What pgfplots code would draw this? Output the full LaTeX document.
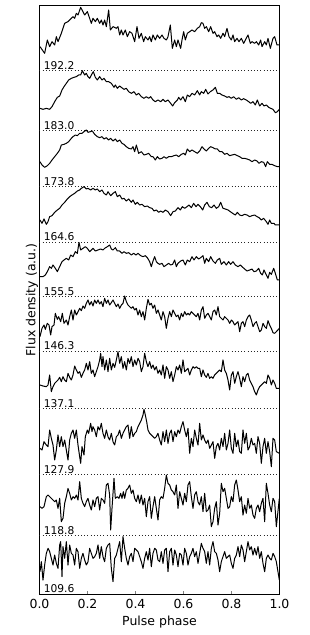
\documentclass[border=0pt]{standalone}
\usepackage{pgfplots}
\pgfplotsset{compat=1.18}
\usepackage{fontspec}
\setmainfont{DejaVu Sans}
\pgfplotsset{prof/.style={black, no markers, line width=1pt, line join=round}}
\begin{document}
\begin{tikzpicture}
\begin{axis}[
  scale only axis, width=240pt, height=588.6pt,
  xmin=0, xmax=1, ymin=0, ymax=588.6,
  xtick={0,0.2,0.4,0.6,0.8,1.0},
  xticklabels={0.0,0.2,0.4,0.6,0.8,1.0},
  xtick pos=bottom, ytick=\empty,
  tick align=inside, major tick length=3.5pt,
  /pgf/number format/assume math mode=true,
  tick label style={font=\fontsize{12.5}{14}\selectfont},
  xticklabel style={yshift=-1pt},
  label style={font=\fontsize{12.5}{14}\selectfont},
  xlabel={Pulse phase}, ylabel={Flux density (a.u.)},
  xlabel style={yshift=-1pt},
  ylabel style={yshift=-2pt},
  axis line style={line width=0.9pt},
]
% baselines
\pgfplotsinvokeforeach{523.6,463.6,407.6,352,297.6,243.3,185.6,119.5,58.6}{
  \addplot[line width=0.7pt, black!85, dash pattern=on 0.9pt off 2.3pt] coordinates {(0,#1) (1,#1)};
}
% profile 192.2
\addplot[prof] table[row sep=\\, x expr={(\thisrowno{0}-4.5)/720}, y expr={594.3-\thisrowno{1}/3}] {
6 140\\20 160\\28 120\\35 140\\42 125\\50 135\\55 110\\60 125\\70 100\\80 70\\90 65\\100 55\\105 50\\110 55\\115 40\\120 45\\128 22\\135 35\\140 45\\148 35\\155 55\\160 70\\165 55\\172 65\\178 55\\185 70\\190 60\\195 75\\200 60\\205 80\\212 30\\217 90\\225 80\\235 85\\240 80\\245 105\\250 90\\255 105\\262 90\\268 110\\275 95\\282 100\\290 125\\297 80\\303 115\\310 100\\317 125\\322 110\\330 120\\335 110\\340 125\\345 105\\352 120\\358 105\\365 115\\372 105\\378 115\\385 120\\390 110\\397 75\\403 145\\410 120\\415 140\\420 120\\428 145\\432 120\\437 95\\442 120\\448 100\\455 95\\462 90\\470 95\\478 85\\485 80\\490 68\\495 70\\500 85\\505 80\\512 95\\518 80\\525 100\\530 95\\537 110\\542 105\\548 115\\555 100\\560 110\\567 85\\573 110\\580 120\\585 105\\590 125\\597 115\\603 125\\610 115\\617 130\\622 120\\630 105\\637 130\\642 125\\650 130\\655 125\\662 135\\668 120\\672 140\\680 125\\685 135\\690 115\\697 145\\705 115\\710 110\\717 135\\724 135\\
};
% profile 183.0
\addplot[prof] table[row sep=\\, x expr={(\thisrowno{0}-4.5)/720}, y expr={594.3-\thisrowno{1}/3}] {
6 325\\15 328\\25 325\\35 328\\42 320\\50 305\\58 292\\65 288\\72 270\\78 260\\85 250\\92 240\\100 235\\108 232\\115 230\\122 225\\128 225\\133 212\\140 225\\145 220\\150 230\\155 235\\160 225\\166 215\\172 232\\178 240\\185 230\\192 240\\198 235\\205 245\\212 245\\220 250\\228 262\\232 255\\238 265\\245 258\\250 262\\258 268\\265 265\\272 275\\280 280\\288 275\\295 285\\302 280\\310 290\\318 295\\325 290\\332 295\\338 290\\345 300\\352 305\\360 300\\368 305\\375 298\\382 305\\390 300\\398 310\\404 318\\410 308\\418 300\\422 292\\428 300\\435 290\\442 305\\448 285\\455 290\\462 280\\470 285\\478 272\\485 285\\490 275\\497 280\\503 268\\510 282\\517 275\\525 270\\532 262\\538 280\\545 280\\552 285\\560 288\\567 292\\573 290\\580 295\\587 290\\595 298\\602 293\\610 300\\617 296\\625 300\\632 305\\638 310\\645 305\\652 315\\658 300\\665 318\\672 310\\678 318\\685 315\\692 322\\698 325\\705 328\\712 338\\718 335\\724 328\\
};
% profile 173.8
\addplot[prof] table[row sep=\\, x expr={(\thisrowno{0}-4.5)/720}, y expr={469.3-\thisrowno{1}/3}] {
6 110\\12 120\\20 127\\28 122\\35 115\\42 105\\50 95\\58 85\\65 75\\70 60\\78 58\\85 55\\92 50\\100 40\\105 35\\112 30\\118 32\\125 25\\132 25\\138 20\\145 15\\150 22\\157 20\\163 18\\170 28\\178 35\\185 38\\192 35\\198 42\\205 38\\212 45\\218 40\\225 48\\232 42\\238 50\\245 45\\252 55\\258 58\\265 65\\272 70\\280 72\\285 65\\290 80\\295 60\\302 85\\310 80\\318 90\\325 88\\332 85\\340 95\\345 95\\352 105\\358 95\\365 102\\372 100\\378 95\\385 100\\392 95\\400 95\\408 92\\415 90\\422 95\\430 88\\437 85\\442 90\\448 72\\455 80\\462 75\\470 80\\478 85\\485 78\\492 65\\498 72\\505 78\\512 70\\518 65\\525 68\\532 72\\538 72\\545 80\\552 80\\560 88\\567 85\\575 92\\582 90\\590 88\\598 92\\605 95\\612 100\\620 100\\627 102\\635 105\\642 110\\650 105\\657 108\\663 115\\670 110\\677 112\\683 125\\688 110\\695 118\\702 118\\710 122\\718 125\\724 125\\
};
% profile 164.6
\addplot[prof] table[row sep=\\, x expr={(\thisrowno{0}-4.5)/720}, y expr={469.3-\thisrowno{1}/3}] {
6 285\\12 295\\18 282\\25 298\\30 290\\35 275\\42 272\\50 262\\58 255\\65 250\\72 240\\80 232\\88 222\\95 215\\102 210\\110 205\\118 198\\125 195\\130 190\\138 185\\145 192\\150 190\\158 195\\165 190\\172 195\\178 192\\185 200\\192 195\\198 205\\205 210\\210 200\\218 212\\225 205\\232 200\\238 215\\245 210\\252 222\\258 220\\265 228\\272 222\\280 232\\285 225\\292 238\\298 232\\305 240\\312 238\\320 245\\328 243\\335 248\\342 250\\348 258\\355 255\\362 262\\368 258\\375 262\\382 255\\390 260\\398 272\\405 260\\412 258\\420 248\\427 255\\433 245\\440 250\\447 245\\453 240\\460 248\\467 235\\474 245\\480 238\\487 245\\494 255\\500 240\\507 232\\514 245\\521 248\\528 240\\535 250\\542 245\\548 232\\555 250\\562 252\\570 255\\577 260\\584 265\\592 270\\598 262\\605 270\\612 272\\620 268\\627 270\\635 275\\642 272\\650 270\\657 275\\663 278\\670 285\\677 280\\685 290\\690 298\\695 285\\700 295\\708 295\\712 300\\724 300\\
};
% profile 155.5
\addplot[prof] table[row sep=\\, x expr={(\thisrowno{0}-4.5)/720}, y expr={469.3-\thisrowno{1}/3}] {
6 455\\15 455\\22 450\\28 440\\35 425\\40 430\\45 420\\52 430\\58 440\\65 425\\72 410\\78 405\\85 400\\92 405\\98 390\\105 395\\112 380\\118 385\\123 352\\128 375\\135 370\\142 365\\148 370\\155 380\\160 375\\165 370\\172 378\\180 375\\188 372\\195 375\\200 370\\208 365\\215 360\\220 372\\225 375\\232 368\\238 378\\245 378\\252 385\\258 380\\265 385\\272 383\\280 390\\287 385\\294 390\\300 385\\308 392\\315 395\\322 392\\328 398\\335 410\\340 425\\345 408\\350 395\\355 410\\360 415\\365 418\\372 415\\378 425\\385 420\\392 415\\398 420\\404 418\\410 405\\415 425\\420 415\\428 408\\435 405\\442 420\\448 405\\455 410\\462 395\\468 405\\475 395\\482 402\\488 398\\495 392\\500 415\\505 400\\512 410\\518 395\\525 408\\532 415\\538 405\\545 400\\550 418\\558 410\\565 420\\572 410\\578 418\\585 410\\592 420\\600 425\\607 420\\612 425\\620 432\\627 438\\635 435\\642 432\\648 440\\655 438\\662 430\\668 445\\673 450\\678 435\\685 450\\690 460\\695 442\\700 448\\707 430\\712 445\\718 465\\724 465\\
};
% profile 146.3
\addplot[prof] table[row sep=\\, x expr={(\thisrowno{0}-4.5)/720}, y expr={304.3-\thisrowno{1}/3}] {
6 140\\12 115\\18 105\\22 118\\28 100\\33 105\\38 135\\42 110\\48 105\\52 70\\58 88\\62 80\\68 95\\73 70\\78 100\\85 90\\90 105\\95 80\\100 60\\105 90\\110 60\\115 75\\120 65\\125 55\\130 62\\135 48\\140 55\\145 40\\150 30\\155 45\\160 35\\165 48\\170 30\\175 40\\180 30\\185 42\\190 35\\195 50\\200 25\\205 40\\210 30\\215 45\\220 38\\225 30\\230 40\\235 50\\240 42\\245 55\\250 45\\255 40\\260 18\\265 35\\270 45\\275 50\\280 55\\285 50\\290 60\\295 55\\300 75\\305 60\\310 80\\315 65\\320 90\\325 55\\330 28\\335 45\\340 40\\345 55\\350 45\\355 70\\360 60\\365 75\\370 90\\375 65\\380 80\\385 115\\390 85\\395 65\\400 80\\405 60\\410 70\\415 80\\420 75\\425 90\\430 70\\435 80\\440 65\\445 75\\450 70\\455 75\\460 65\\465 70\\470 75\\475 80\\480 70\\485 90\\490 60\\495 50\\500 85\\505 75\\510 70\\515 80\\520 90\\525 65\\530 60\\535 75\\540 50\\545 80\\550 85\\555 90\\560 80\\565 85\\570 90\\575 100\\580 90\\585 95\\590 105\\595 100\\600 95\\605 125\\610 100\\615 95\\620 110\\625 90\\630 80\\635 75\\640 90\\645 110\\650 100\\655 95\\660 110\\665 125\\670 120\\675 100\\680 110\\685 115\\690 92\\695 105\\700 115\\705 128\\710 130\\715 125\\724 115\\
};
% profile 137.1
\addplot[prof] table[row sep=\\, x expr={(\thisrowno{0}-4.5)/720}, y expr={304.3-\thisrowno{1}/3}] {
6 285\\15 288\\25 290\\30 285\\35 255\\40 305\\45 290\\50 280\\55 275\\60 270\\65 262\\70 275\\75 260\\80 270\\85 275\\90 250\\95 262\\100 270\\105 255\\110 228\\115 240\\120 250\\125 245\\130 262\\135 250\\140 240\\145 220\\150 240\\155 215\\160 250\\165 240\\170 260\\175 245\\180 230\\185 210\\188 190\\192 230\\195 200\\200 240\\205 210\\210 245\\215 205\\220 240\\225 220\\230 232\\235 210\\240 185\\245 220\\250 200\\255 235\\260 215\\265 240\\270 205\\275 220\\280 200\\285 230\\290 210\\295 225\\300 205\\305 215\\310 245\\315 230\\320 190\\325 215\\330 230\\335 215\\340 235\\345 225\\350 240\\355 230\\360 250\\365 240\\370 255\\375 225\\380 265\\385 230\\390 240\\395 265\\400 245\\405 275\\410 255\\415 230\\420 240\\425 225\\430 250\\435 210\\440 245\\445 240\\450 235\\455 255\\460 240\\465 230\\470 235\\475 230\\480 235\\485 235\\490 260\\495 240\\500 255\\505 262\\510 250\\515 265\\520 260\\525 265\\530 255\\535 250\\540 245\\545 240\\550 245\\555 210\\560 240\\565 250\\570 270\\575 300\\580 255\\585 245\\590 280\\595 260\\600 245\\605 265\\610 290\\615 260\\620 275\\625 255\\630 250\\635 270\\640 280\\645 290\\650 305\\655 315\\660 300\\665 290\\670 285\\675 280\\680 275\\685 280\\690 255\\695 265\\700 285\\705 270\\710 280\\715 295\\724 295\\
};
% profile 127.9
\addplot[prof] table[row sep=\\, x expr={(\thisrowno{0}-4.5)/720}, y expr={304.3-\thisrowno{1}/3}] {
6 475\\12 480\\18 455\\25 465\\30 470\\35 420\\40 445\\45 465\\50 510\\55 480\\60 435\\65 470\\70 440\\75 470\\80 450\\85 480\\90 510\\95 450\\100 430\\105 420\\110 445\\115 420\\120 465\\125 500\\128 520\\132 470\\138 495\\142 440\\148 420\\152 430\\158 400\\162 425\\165 410\\170 420\\175 440\\180 410\\185 420\\190 400\\195 430\\200 445\\205 420\\210 440\\215 450\\220 430\\225 455\\230 465\\235 440\\240 435\\245 420\\250 445\\255 430\\260 420\\265 410\\270 405\\275 445\\280 410\\285 440\\290 430\\295 425\\300 410\\305 400\\310 390\\315 375\\318 358\\322 375\\326 395\\330 420\\335 430\\340 435\\345 440\\350 445\\355 440\\360 430\\365 450\\370 465\\375 425\\380 455\\385 420\\390 460\\395 430\\400 420\\405 455\\410 425\\415 440\\420 420\\425 430\\430 410\\435 395\\440 420\\445 440\\450 415\\455 490\\460 445\\465 470\\470 420\\475 445\\480 465\\485 400\\490 450\\495 435\\500 450\\505 460\\510 450\\515 475\\520 465\\525 455\\530 505\\535 470\\540 460\\545 480\\550 445\\555 470\\560 430\\565 480\\570 460\\575 420\\580 475\\585 490\\590 430\\595 470\\600 450\\605 485\\610 490\\615 420\\620 460\\625 430\\630 480\\635 470\\640 445\\645 465\\650 460\\655 490\\660 440\\665 460\\670 520\\675 470\\680 445\\685 490\\690 455\\695 485\\700 530\\705 445\\710 450\\715 485\\724 490\\
};
% profile 118.8
\addplot[prof] table[row sep=\\, x expr={(\thisrowno{0}-4.5)/720}, y expr={129.3-\thisrowno{1}/3}] {
6 125\\12 130\\18 125\\25 95\\30 90\\35 95\\40 100\\45 105\\50 110\\55 105\\60 130\\65 100\\70 170\\75 160\\80 115\\85 95\\90 70\\95 85\\100 105\\105 95\\110 100\\115 90\\120 105\\125 50\\130 100\\135 115\\140 125\\145 110\\150 100\\155 120\\160 135\\165 105\\170 125\\175 100\\180 95\\185 135\\190 100\\195 105\\200 115\\205 60\\210 55\\215 90\\218 195\\222 130\\228 40\\232 100\\238 95\\243 100\\248 85\\252 100\\256 80\\260 100\\265 75\\270 70\\275 60\\280 85\\285 75\\290 100\\295 110\\300 90\\305 115\\310 90\\315 120\\320 100\\325 155\\330 110\\335 95\\340 160\\345 125\\350 95\\355 130\\360 165\\365 105\\370 95\\375 100\\380 70\\385 30\\390 55\\395 60\\400 75\\405 80\\410 90\\415 60\\420 130\\425 80\\430 100\\435 120\\440 85\\445 110\\450 60\\455 50\\460 95\\465 130\\470 90\\475 80\\480 110\\485 120\\490 95\\495 140\\500 85\\505 140\\510 135\\515 120\\520 185\\525 170\\530 130\\535 110\\540 180\\545 145\\550 55\\555 80\\560 70\\565 100\\570 130\\575 125\\580 95\\585 110\\590 60\\595 45\\600 75\\605 110\\610 95\\615 150\\620 120\\625 145\\630 100\\635 130\\640 120\\645 150\\650 160\\655 130\\660 120\\665 140\\670 115\\675 100\\680 170\\685 55\\690 85\\695 120\\700 140\\705 100\\710 110\\715 185\\724 100\\
};
% profile 109.6
\addplot[prof] table[row sep=\\, x expr={(\thisrowno{0}-4.5)/720}, y expr={129.3-\thisrowno{1}/3}] {
6 320\\10 290\\15 345\\20 300\\25 265\\30 250\\35 260\\40 280\\45 300\\50 270\\55 295\\60 310\\65 240\\68 230\\72 335\\75 245\\80 280\\85 230\\90 300\\95 240\\100 265\\105 270\\110 300\\115 250\\120 260\\125 310\\130 280\\135 265\\140 285\\145 300\\150 290\\155 250\\160 265\\165 280\\170 275\\175 265\\180 240\\185 280\\190 245\\195 275\\200 290\\205 250\\210 240\\215 235\\220 310\\225 350\\230 280\\235 270\\240 250\\245 230\\250 290\\255 215\\260 250\\265 280\\270 300\\275 275\\280 265\\285 290\\290 250\\295 255\\300 260\\305 275\\310 290\\315 310\\320 280\\325 260\\330 285\\335 250\\340 305\\345 265\\350 250\\355 255\\360 285\\365 290\\370 260\\375 295\\380 255\\385 250\\390 320\\395 260\\400 250\\405 300\\410 255\\415 270\\420 305\\425 265\\430 270\\435 300\\440 250\\445 265\\450 300\\455 275\\460 265\\465 250\\470 275\\475 260\\480 295\\485 265\\490 235\\495 250\\500 260\\505 295\\510 260\\515 300\\520 250\\525 230\\530 260\\535 265\\540 285\\545 320\\550 290\\555 275\\560 260\\565 280\\570 275\\575 270\\580 295\\585 310\\590 280\\595 270\\600 245\\605 275\\610 240\\615 255\\620 290\\625 260\\630 230\\635 255\\640 245\\645 270\\650 250\\655 270\\660 245\\665 280\\670 260\\675 295\\680 320\\685 280\\690 270\\695 280\\700 285\\705 265\\710 275\\715 290\\724 345\\
};
% labels
\node[anchor=south west, inner sep=1.2pt, font=\fontsize{10.7}{12}\selectfont] at (axis cs:0.012,523.6) {192.2};
\node[anchor=south west, inner sep=1.2pt, font=\fontsize{10.7}{12}\selectfont] at (axis cs:0.012,463.6) {183.0};
\node[anchor=south west, inner sep=1.2pt, font=\fontsize{10.7}{12}\selectfont] at (axis cs:0.012,407.6) {173.8};
\node[anchor=south west, inner sep=1.2pt, font=\fontsize{10.7}{12}\selectfont] at (axis cs:0.012,352) {164.6};
\node[anchor=south west, inner sep=1.2pt, font=\fontsize{10.7}{12}\selectfont] at (axis cs:0.012,297.6) {155.5};
\node[anchor=south west, inner sep=1.2pt, font=\fontsize{10.7}{12}\selectfont] at (axis cs:0.012,243.3) {146.3};
\node[anchor=south west, inner sep=1.2pt, font=\fontsize{10.7}{12}\selectfont] at (axis cs:0.012,185.6) {137.1};
\node[anchor=south west, inner sep=1.2pt, font=\fontsize{10.7}{12}\selectfont] at (axis cs:0.012,119.5) {127.9};
\node[anchor=south west, inner sep=1.2pt, font=\fontsize{10.7}{12}\selectfont] at (axis cs:0.012,58.6) {118.8};
\node[anchor=south west, inner sep=1.2pt, font=\fontsize{10.7}{12}\selectfont] at (axis cs:0.012,0) {109.6};
\coordinate (bl) at (rel axis cs:0,0);
\coordinate (tr) at (rel axis cs:1,1);
\end{axis}
\path (bl) ++(-39.5pt,-40.7pt) coordinate (a);
\path (tr) ++(30.5pt,5.7pt) coordinate (b);
\path (a) rectangle (b);
\end{tikzpicture}
\end{document}
